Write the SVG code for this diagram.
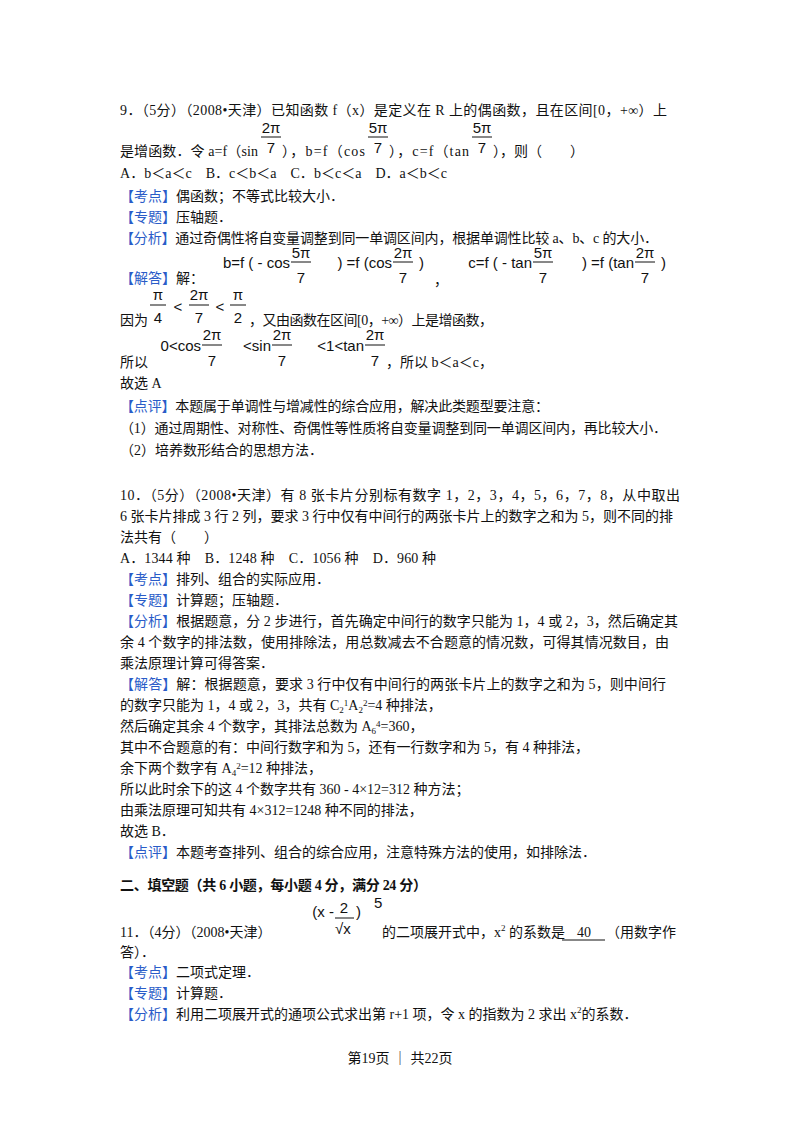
<svg xmlns="http://www.w3.org/2000/svg" width="800" height="1132" viewBox="0 0 800 1132">
<style>
text{font-family:"Liberation Serif","Noto Sans CJK SC",serif;font-size:14px;fill:#111}
.b{fill:#2a5cc8}
.m{font-family:"Liberation Sans","DejaVu Sans",sans-serif;font-size:15px}
.c{text-anchor:middle}
.e{text-anchor:end}
.h{font-weight:bold}
line{stroke:#111;stroke-width:1}
</style>
<rect width="800" height="1132" fill="#fff"/>
<g id="q9">
<text x="120" y="115" textLength="547">9．（5分）（2008•天津）已知函数 f（x）是定义在 R 上的偶函数，且在区间[0，+∞）上</text>
<text class="m c" x="271" y="133">2π</text><line x1="261" y1="137" x2="281" y2="137"/><text class="m c" x="271" y="153">7</text>
<text class="m c" x="378" y="133">5π</text><line x1="368" y1="137" x2="388" y2="137"/><text class="m c" x="378" y="153">7</text>
<text class="m c" x="482" y="133">5π</text><line x1="472" y1="137" x2="492" y2="137"/><text class="m c" x="482" y="153">7</text>
<text x="120" y="156" textLength="138">是增函数．令 a=f（sin</text>
<text x="282" y="156" textLength="83">），b=f（cos</text>
<text x="389" y="156" textLength="80">），c=f（tan</text>
<text x="493" y="156">），则（　　）</text>
<text x="120" y="178" textLength="327">A．b＜a＜c　B．c＜b＜a　C．b＜c＜a　D．a＜b＜c</text>
<text x="120" y="201"><tspan class="b">【考点】</tspan>偶函数；不等式比较大小．</text>
<text x="120" y="222"><tspan class="b">【专题】</tspan>压轴题．</text>
<text x="120" y="243" textLength="538"><tspan class="b">【分析】</tspan>通过奇偶性将自变量调整到同一单调区间内，根据单调性比较 a、b、c 的大小．</text>
<text class="m e" x="290" y="268">b=f ( - cos</text>
<text class="m c" x="301" y="258">5π</text><line x1="291" y1="262" x2="311" y2="262"/><text class="m c" x="301" y="283">7</text>
<text class="m e" x="392" y="268">) =f (cos</text>
<text class="m c" x="403" y="258">2π</text><line x1="393" y1="262" x2="413" y2="262"/><text class="m c" x="403" y="283">7</text>
<text class="m" x="419" y="268">)</text>
<text x="434" y="285">，</text>
<text class="m e" x="532" y="268">c=f ( - tan</text>
<text class="m c" x="543" y="258">5π</text><line x1="533" y1="262" x2="553" y2="262"/><text class="m c" x="543" y="283">7</text>
<text class="m e" x="634" y="268">) =f (tan</text>
<text class="m c" x="645" y="258">2π</text><line x1="635" y1="262" x2="655" y2="262"/><text class="m c" x="645" y="283">7</text>
<text class="m" x="661" y="268">)</text>
<text x="120" y="283"><tspan class="b">【解答】</tspan>解：</text>
<text class="m c" x="158" y="300">π</text><line x1="150" y1="305" x2="166" y2="305"/><text class="m c" x="158" y="323">4</text>
<text class="m c" x="178" y="312">&lt;</text>
<text class="m c" x="199" y="300">2π</text><line x1="189" y1="305" x2="209" y2="305"/><text class="m c" x="199" y="323">7</text>
<text class="m c" x="220" y="312">&lt;</text>
<text class="m c" x="238" y="300">π</text><line x1="230" y1="305" x2="246" y2="305"/><text class="m c" x="238" y="323">2</text>
<text x="120" y="325">因为</text>
<text x="249" y="325" textLength="244">，又由函数在区间[0，+∞）上是增函数，</text>
<text class="m e" x="201" y="351">0&lt;cos</text>
<text class="m c" x="212" y="340">2π</text><line x1="202" y1="345" x2="222" y2="345"/><text class="m c" x="212" y="366">7</text>
<text class="m e" x="271" y="351">&lt;sin</text>
<text class="m c" x="282" y="340">2π</text><line x1="272" y1="345" x2="292" y2="345"/><text class="m c" x="282" y="366">7</text>
<text class="m e" x="364" y="351">&lt;1&lt;tan</text>
<text class="m c" x="375" y="340">2π</text><line x1="365" y1="345" x2="385" y2="345"/><text class="m c" x="375" y="366">7</text>
<text x="120" y="367">所以</text>
<text x="386" y="367">，所以 b＜a＜c，</text>
<text x="120" y="388">故选 A</text>
<text x="120" y="411" textLength="429"><tspan class="b">【点评】</tspan>本题属于单调性与增减性的综合应用，解决此类题型要注意：</text>
<text x="120" y="433" textLength="547">（1）通过周期性、对称性、奇偶性等性质将自变量调整到同一单调区间内，再比较大小．</text>
<text x="120" y="455">（2）培养数形结合的思想方法．</text>
</g>
<g id="q10">
<text x="120" y="500" textLength="560">10．（5分）（2008•天津）有 8 张卡片分别标有数字 1，2，3，4，5，6，7，8，从中取出</text>
<text x="120" y="521" textLength="553">6 张卡片排成 3 行 2 列，要求 3 行中仅有中间行的两张卡片上的数字之和为 5，则不同的排</text>
<text x="120" y="542">法共有（　　）</text>
<text x="120" y="563" textLength="316">A．1344 种　B．1248 种　C．1056 种　D．960 种</text>
<text x="120" y="584"><tspan class="b">【考点】</tspan>排列、组合的实际应用．</text>
<text x="120" y="605"><tspan class="b">【专题】</tspan>计算题；压轴题．</text>
<text x="120" y="626" textLength="558"><tspan class="b">【分析】</tspan>根据题意，分 2 步进行，首先确定中间行的数字只能为 1，4 或 2，3，然后确定其</text>
<text x="120" y="647" textLength="549">余 4 个数字的排法数，使用排除法，用总数减去不合题意的情况数，可得其情况数目，由</text>
<text x="120" y="668">乘法原理计算可得答案．</text>
<text x="120" y="689" textLength="546"><tspan class="b">【解答】</tspan>解：根据题意，要求 3 行中仅有中间行的两张卡片上的数字之和为 5，则中间行</text>
<text x="120" y="710">的数字只能为 1，4 或 2，3，共有 C<tspan font-size="9" dy="3">2</tspan><tspan font-size="9" dy="-7">1</tspan><tspan dy="4">A</tspan><tspan font-size="9" dy="3">2</tspan><tspan font-size="9" dy="-7">2</tspan><tspan dy="4">=4 种排法，</tspan></text>
<text x="120" y="731">然后确定其余 4 个数字，其排法总数为 A<tspan font-size="9" dy="3">6</tspan><tspan font-size="9" dy="-7">4</tspan><tspan dy="4">=360，</tspan></text>
<text x="120" y="752">其中不合题意的有：中间行数字和为 5，还有一行数字和为 5，有 4 种排法，</text>
<text x="120" y="773">余下两个数字有 A<tspan font-size="9" dy="3">4</tspan><tspan font-size="9" dy="-7">2</tspan><tspan dy="4">=12 种排法，</tspan></text>
<text x="120" y="794">所以此时余下的这 4 个数字共有 360 - 4×12=312 种方法；</text>
<text x="120" y="815">由乘法原理可知共有 4×312=1248 种不同的排法，</text>
<text x="120" y="836">故选 B．</text>
<text x="120" y="857"><tspan class="b">【点评】</tspan>本题考查排列、组合的综合应用，注意特殊方法的使用，如排除法．</text>
</g>
<g id="q11">
<text class="h" x="120" y="890" textLength="307">二、填空题（共 6 小题，每小题 4 分，满分 24 分）</text>
<text class="m e" x="334" y="917">(x -</text>
<text class="m c" x="344" y="913">2</text><line x1="335" y1="918" x2="354" y2="918"/>
<text class="m" x="335" y="934">√x</text>
<text class="m" x="356" y="917">)</text>
<text class="m" x="374" y="908" font-size="12">5</text>
<text x="120" y="937">11．（4分）（2008•天津）</text>
<text x="382" y="937">的二项展开式中，x<tspan font-size="9" dy="-6">2</tspan><tspan dy="6"> 的系数是</tspan></text>
<text class="c" x="584" y="937">40</text><line x1="562" y1="940" x2="605" y2="940"/>
<text x="606" y="937">（用数字作</text>
<text x="120" y="957">答）．</text>
<text x="120" y="977"><tspan class="b">【考点】</tspan>二项式定理．</text>
<text x="120" y="998"><tspan class="b">【专题】</tspan>计算题．</text>
<text x="120" y="1019"><tspan class="b">【分析】</tspan>利用二项展开式的通项公式求出第 r+1 项，令 x 的指数为 2 求出 x<tspan font-size="9" dy="-6">2</tspan><tspan dy="6">的系数．</tspan></text>
</g>
<text class="c" x="400" y="1063" font-size="12">第19页 ｜ 共22页</text>
</svg>
